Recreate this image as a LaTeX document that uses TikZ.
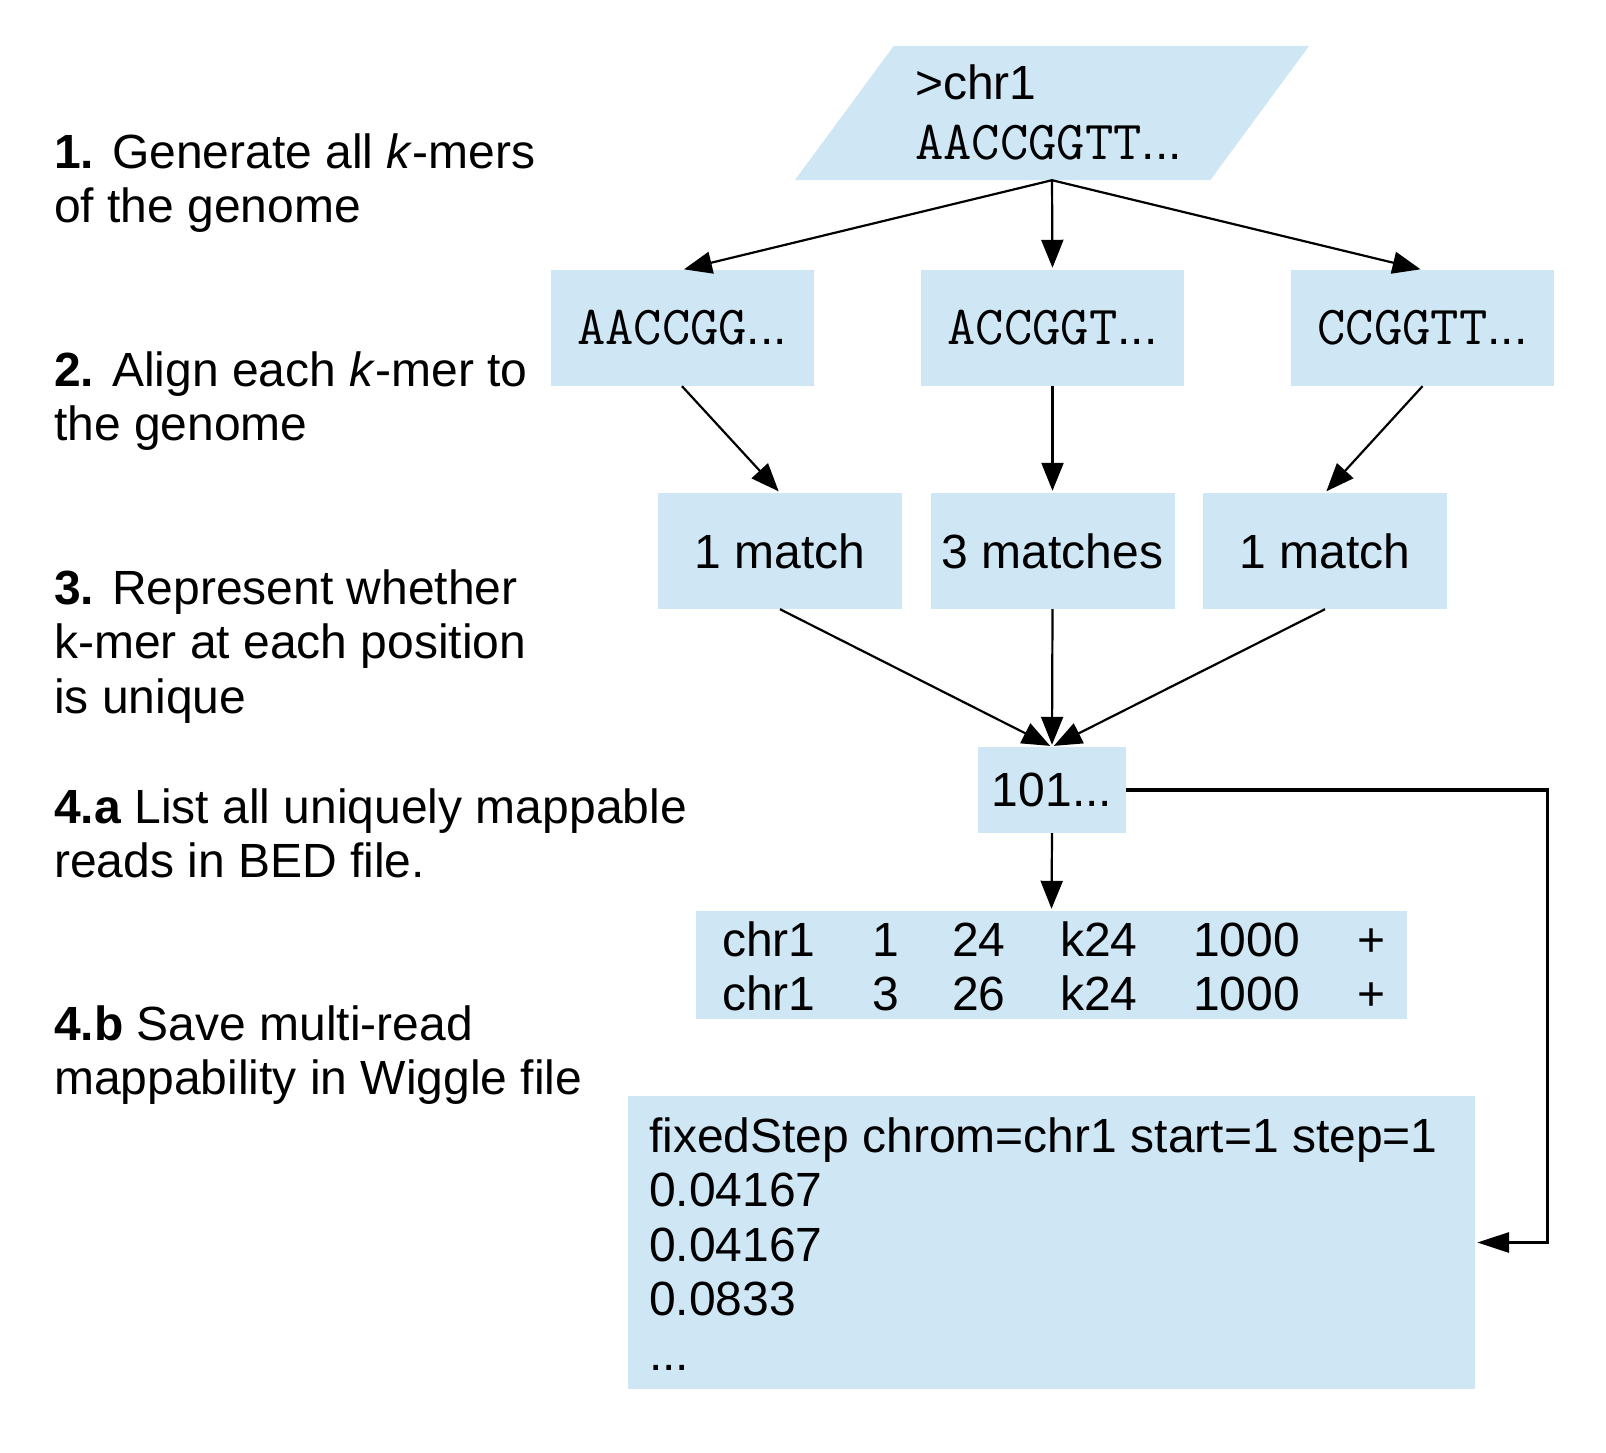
\documentclass[tikz,border=0pt]{standalone}
\usepackage{fontspec}
\setmainfont{Liberation Sans}
\usetikzlibrary{arrows.meta}
\definecolor{boxblue}{RGB}{207,230,244}
\newcommand{\sansfs}{\fontsize{48}{54.5}\selectfont}
\newcommand{\monofs}{\ttfamily\addfontfeatures{FakeBold=2.5}\fontsize{55}{54.5}\selectfont}
\newcommand{\seqtxt}[1]{{\monofs #1}\sansfs ...}
\begin{document}
\begin{tikzpicture}[x=1pt,y=-1pt,
  blk/.style={fill=boxblue, inner sep=0pt, font=\sansfs},
  kbox/.style={blk, minimum width=263pt, minimum height=116pt},
  mbox/.style={blk, minimum width=244pt, minimum height=116pt},
  txt/.style={inner sep=0pt, anchor=base west, font=\sansfs},
  arr/.style={draw, line width=2.2pt, shorten >=2pt, -{Triangle[length=28pt,width=22pt]}},
  elbow/.style={draw, line width=3.2pt, shorten >=2pt, -{Triangle[length=32pt,width=20pt]}}
]
\useasboundingbox (0,0) rectangle (1606,1453);

% source parallelogram
\node[minimum width=514pt, minimum height=134pt, inner sep=0pt] (src) at (1052,113) {};
\fill[boxblue] ([xshift=99pt]src.north west) -- (src.north east) -- ([xshift=-99pt]src.south east) -- (src.south west) -- cycle;
\node[txt] (chr) at (915,100) {>chr1};
\node[txt] (seq) at (915,159) {\seqtxt{AACCGGTT}};

% k-mers
\node[kbox] (k1) at (682,328) {\seqtxt{AACCGG}};
\node[kbox] (k2) at (1052.5,328) {\seqtxt{ACCGGT}};
\node[kbox] (k3) at (1422.5,328) {\seqtxt{CCGGTT}};

% matches
\node[mbox] (m1) at (780,551) {1 match};
\node[mbox] (m2) at (1052.5,551) {3 matches};
\node[mbox] (m3) at (1325,551) {1 match};

% unique vector
\node[blk, minimum width=148pt, minimum height=86pt] (r) at (1052,790) {101...};

% BED
\node[blk, minimum width=711pt, minimum height=108pt] (bed) at (1051.5,965) {};
\node[txt] (bedtxt) at (722,956) {\begin{tabular}[t]{@{}p{150pt}@{}p{80pt}@{}p{108pt}@{}p{133pt}@{}p{164pt}@{}l@{}}
chr1 & 1 & 24 & k24 & 1000 & +\\
chr1 & 3 & 26 & k24 & 1000 & +
\end{tabular}};

% Wiggle
\node[blk, minimum width=847pt, minimum height=293pt] (wig) at (1051.5,1242.5) {};
\node[txt] (wigtxt) at (649,1152) {\begin{tabular}[t]{@{}l@{}}
fixedStep chrom=chr1 start=1 step=1\\
0.04167\\
0.04167\\
0.0833\\
...
\end{tabular}};

% connectors
\draw[arr] (src.south) -- (k1.north);
\draw[arr] (src.south) -- (k2.north);
\draw[arr] (src.south) -- (k3.north);
\draw[arr] (k1.south) -- (m1.north);
\draw[arr] (k2.south) -- (m2.north);
\draw[arr] (k3.south) -- (m3.north);
\draw[arr] (m1.south) -- (r.north);
\draw[arr] (m2.south) -- (r.north);
\draw[arr] (m3.south) -- (r.north);
\draw[arr] (r.south) -- (bed.north);
\draw[elbow] (r.east) -- ++(421,0) |- (wig.east);

% step labels
\node[txt] (l1) at (54,168) {\begin{tabular}[t]{@{}l@{}}
\textbf{1.} Generate all \textit{k}-mers\\
of the genome\end{tabular}};
\node[txt] (l2) at (54,386) {\begin{tabular}[t]{@{}l@{}}
\textbf{2.} Align each \textit{k}-mer to\\
the genome\end{tabular}};
\node[txt] (l3) at (54,604) {\begin{tabular}[t]{@{}l@{}}
\textbf{3.} Represent whether\\
k-mer at each position\\
is unique\end{tabular}};
\node[txt] (l4a) at (54,823) {\begin{tabular}[t]{@{}l@{}}
\textbf{4.a} List all uniquely mappable\\
reads in BED file.\end{tabular}};
\node[txt] (l4b) at (54,1040) {\begin{tabular}[t]{@{}l@{}}
\textbf{4.b} Save multi-read\\
mappability in Wiggle file\end{tabular}};
\end{tikzpicture}
\end{document}
